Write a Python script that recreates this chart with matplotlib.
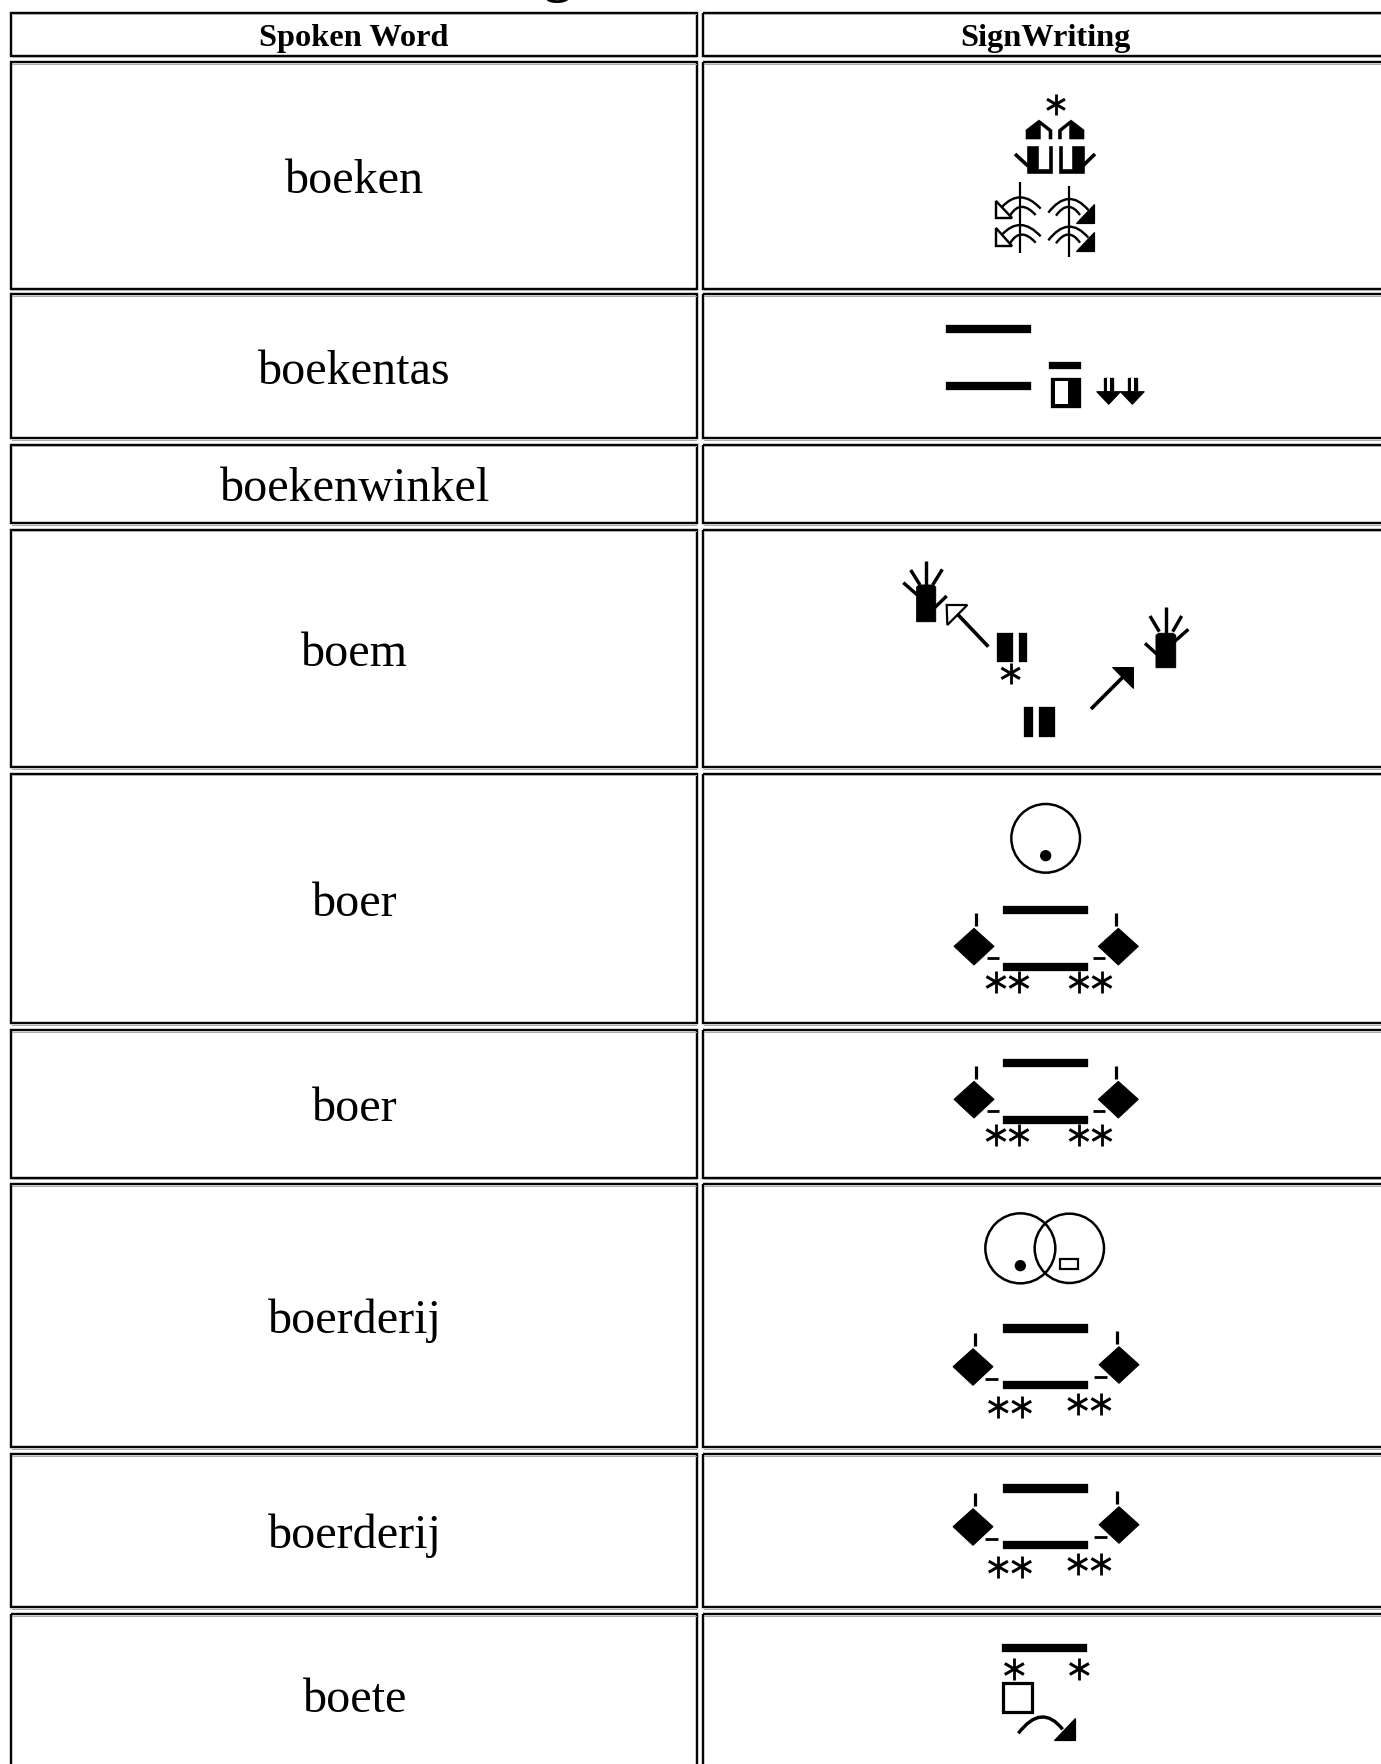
import matplotlib
matplotlib.use('Agg')
import matplotlib.pyplot as plt
from matplotlib.patches import Rectangle, Polygon, Circle, PathPatch
from matplotlib.path import Path

# table content
header = ['Spoken Word', 'SignWriting']
words = ['boeken', 'boekentas', 'boekenwinkel', 'boem', 'boer', 'boer',
         'boerderij', 'boerderij', 'boete']

# row edges in pixels (top, bottom)
header_row = (12.5, 55.5)
row_edges = [(62, 288.5), (294, 438), (444.5, 523), (529.5, 767), (773.5, 1023),
             (1030, 1177.5), (1184, 1447), (1454, 1607), (1614, 1776)]
col_edges = [(11, 697.5), (703.5, 1389)]

fig = plt.figure(figsize=(13.81, 17.64), dpi=100)
ax = fig.add_axes([0, 0, 1, 1])
ax.set_xlim(0, 1381)
ax.set_ylim(1764, 0)
ax.axis('off')

PX = 0.72  # one pixel in points at dpi 100
K = 'black'


def Z(ox, oy, pts):
    # zoomed crop coordinates (3x) to picture pixels
    return [(ox + x / 3, oy + y / 3) for x, y in pts]


def poly(ox, oy, pts, fc=K, lw=0.6):
    ax.add_patch(Polygon(Z(ox, oy, pts), closed=True, fc=fc, ec=K, lw=lw * PX, joinstyle='miter'))


def box(ox, oy, x0, y0, x1, y1, fc=K, lw=0.3):
    poly(ox, oy, [(x0, y0), (x1, y0), (x1, y1), (x0, y1)], fc, lw)


def line(ox, oy, pts, lw=3.2):
    xy = Z(ox, oy, pts)
    ax.plot([p[0] for p in xy], [p[1] for p in xy], color=K, lw=lw * PX, solid_capstyle='butt')


def curve(ox, oy, p0, p1, p2, lw=2.4):
    path = Path(Z(ox, oy, [p0, p1, p2]), [Path.MOVETO, Path.CURVE3, Path.CURVE3])
    ax.add_patch(PathPatch(path, fc='none', ec=K, lw=lw * PX))


def star(ox, oy, x, y, r=32):
    line(ox, oy, [(x, y - r), (x, y + r)], 2.8)
    line(ox, oy, [(x - r * 0.87, y - r * 0.5), (x + r * 0.87, y + r * 0.5)], 3.0)
    line(ox, oy, [(x - r * 0.87, y + r * 0.5), (x + r * 0.87, y - r * 0.5)], 3.0)


def ring(ox, oy, x, y, r, lw=2.5):
    cx, cy = Z(ox, oy, [(x, y)])[0]
    ax.add_patch(Circle((cx, cy), r / 3, fc='none', ec=K, lw=lw * PX))


def dot(ox, oy, x, y, r=17):
    cx, cy = Z(ox, oy, [(x, y)])[0]
    ax.add_patch(Circle((cx, cy), r / 3, fc=K, ec='none'))


def shoulders(ox, oy, tick_l, tick_r, dia_l, dia_r, dash_l, dash_r, bars, stars):
    # two bars with a diamond on each side and asterisks below, repeats in the table
    for y in bars:
        box(ox, oy, 219, y, 473, y + 25)
    line(ox, oy, [(tick_l[0], tick_l[1]), (tick_l[0], tick_l[1] + 41)])
    line(ox, oy, [(tick_r[0], tick_r[1]), (tick_r[0], tick_r[1] + 41)])
    for x, y in (dia_l, dia_r):
        poly(ox, oy, [(x, y - 54), (x + 60, y), (x, y + 56), (x - 60, y)], lw=1.0)
    line(ox, oy, [(dash_l[0], dash_l[1]), (dash_l[0] + 38, dash_l[1])], 2.8)
    line(ox, oy, [(dash_r[0], dash_r[1]), (dash_r[0] + 38, dash_r[1])], 2.8)
    for x, y in stars:
        star(ox, oy, x, y, 33)


def hand(ox, oy, palm, fingers):
    x0, y0, x1, y1 = palm
    poly(ox, oy, [(x0, y1), (x0, y0 + 6), (x0 + 8, y0), (x1 - 8, y0), (x1, y0 + 6), (x1, y1)], lw=1.0)
    for f in fingers:
        line(ox, oy, f, 3.4)


# heading, only the bottom of it is on the picture
ax.text(557.5, -9, 'g', family='Liberation Serif', weight='bold', fontsize=40, ha='center', va='baseline')

# table cells
rows = [header_row] + row_edges
for top, bottom in rows:
    for left, right in col_edges:
        ax.plot([left + 1, right - 1], [bottom + 1.8, bottom + 1.8], color='#aaaaaa', lw=1 * PX)
        ax.plot([left + 1, right - 1], [top + 1.8, top + 1.8], color='#aaaaaa', lw=1 * PX)
        ax.add_patch(Rectangle((left, top), right - left, bottom - top, fc='none', ec='#050505', lw=2.4 * PX))

for col, name in enumerate(header):
    cx = sum(col_edges[col]) / 2 - 0.5
    ax.text(cx, 46, name, family='Liberation Serif', weight='bold', fontsize=23.3, ha='center', va='baseline')

for word, (top, bottom) in zip(words, row_edges):
    ax.text(sum(col_edges[0]) / 2 + 0.5, (top + bottom) / 2 + 17.5, word, family='Liberation Serif',
            fontsize=34.7, ha='center', va='baseline')

# boeken
o = (900, 70)
star(*o, 468, 103, 31)
poly(*o, [(378, 207), (378, 180), (417, 150), (456, 180), (456, 207), (447, 207), (447, 184), (421, 163), (421, 207)])
poly(*o, [(552, 207), (552, 180), (513, 150), (475, 180), (475, 207), (484, 207), (484, 184), (509, 163), (509, 207)])
poly(*o, [(380, 228), (415, 228), (415, 298), (446, 298), (446, 228), (456, 228), (456, 308), (380, 308)])
poly(*o, [(552, 228), (517, 228), (517, 298), (486, 298), (486, 228), (476, 228), (476, 308), (552, 308)])
line(*o, [(345, 252), (384, 288)], 3.6)
line(*o, [(585, 252), (548, 288)], 3.6)
line(*o, [(361, 335), (361, 550)], 2.2)
line(*o, [(508, 348), (508, 562)], 2.2)
for dy in (0, 83):
    curve(*o, (305, 412 + dy), (361, 350 + dy), (422, 416 + dy))
    curve(*o, (330, 437 + dy), (361, 385 + dy), (407, 435 + dy))
    poly(*o, [(288, 392 + dy), (288, 445 + dy), (337, 445 + dy)], fc='white', lw=2.4)
    curve(*o, (445, 428 + dy), (505, 350 + dy), (565, 420 + dy))
    curve(*o, (468, 437 + dy), (505, 385 + dy), (540, 435 + dy))
    poly(*o, [(583, 403 + dy), (583, 460 + dy), (528, 460 + dy)], lw=1.2)

# boekentas
box(*o, 138, 765, 392, 790)
box(*o, 138, 935, 392, 960)
box(*o, 448, 875, 544, 898)
box(*o, 452, 923, 544, 1013)
box(*o, 465, 933, 503, 1003, fc='white', lw=0)
for dx in (0, 71):
    box(*o, 612 + dx, 924, 642 + dx, 970)
    box(*o, 622 + dx, 924, 631 + dx, 964, fc='white', lw=0)
    poly(*o, [(590 + dx, 965), (662 + dx, 965), (626 + dx, 1003)], lw=1.0)

# boem
o = (880, 540)
hand(*o, (110, 135, 167, 245), [[(138, 62), (138, 135)], [(92, 90), (120, 135)], [(187, 88), (158, 135)],
                                [(70, 128), (112, 165)], [(200, 168), (165, 202)]])
line(*o, [(325, 320), (232, 222)], 3.6)
poly(*o, [(262, 195), (200, 195), (202, 255)], fc='white', lw=2.2)
box(*o, 350, 278, 398, 367)
box(*o, 417, 278, 440, 367)
star(*o, 392, 400, 32)
box(*o, 433, 500, 458, 590)
box(*o, 478, 500, 525, 590)
line(*o, [(633, 507), (728, 412)], 3.6)
poly(*o, [(695, 380), (760, 380), (760, 445)], lw=1.0)
hand(*o, (828, 280, 887, 383), [[(857, 200), (857, 280)], [(810, 228), (838, 275)], [(905, 228), (878, 275)],
                                [(925, 268), (883, 305)], [(795, 310), (830, 342)]])

# boer, with the face
o = (930, 790)
ring(*o, 347, 145, 103)
dot(*o, 347, 197)
farmer = dict(tick_l=(138, 368), tick_r=(557, 368), dia_l=(132, 469), dia_r=(565, 469),
              dash_l=(170, 505), dash_r=(488, 505), bars=(348, 518),
              stars=[(198, 576), (267, 576), (447, 576), (516, 576)])
shoulders(*o, **farmer)

# boer
shoulders(930, 790 + 153, **farmer)

# boerderij, with the two circles
o = (930, 1200)
ring(*o, 271, 145, 105)
ring(*o, 418, 145, 104)
dot(*o, 271, 197)
box(*o, 390, 178, 445, 208, fc='white', lw=2.2)
farm = dict(tick_l=(135, 398), tick_r=(560, 392), dia_l=(129, 500), dia_r=(567, 494),
            dash_l=(165, 536), dash_r=(492, 530), bars=(373, 542),
            stars=[(205, 620), (275, 620), (443, 612), (513, 612)])
shoulders(*o, **farm)

# boerderij
shoulders(930, 1200 + 160, **farm)

# boete
o = (960, 1630)
box(*o, 127, 42, 382, 67)
star(*o, 163, 117, 33)
star(*o, 358, 117, 33)
box(*o, 130, 160, 215, 245, fc='white', lw=3.2)
curve(*o, (175, 310), (245, 218), (308, 298), lw=3.4)
poly(*o, [(345, 265), (345, 330), (282, 330)], lw=1.2)

fig.savefig('out.png', dpi=100, facecolor='white')
